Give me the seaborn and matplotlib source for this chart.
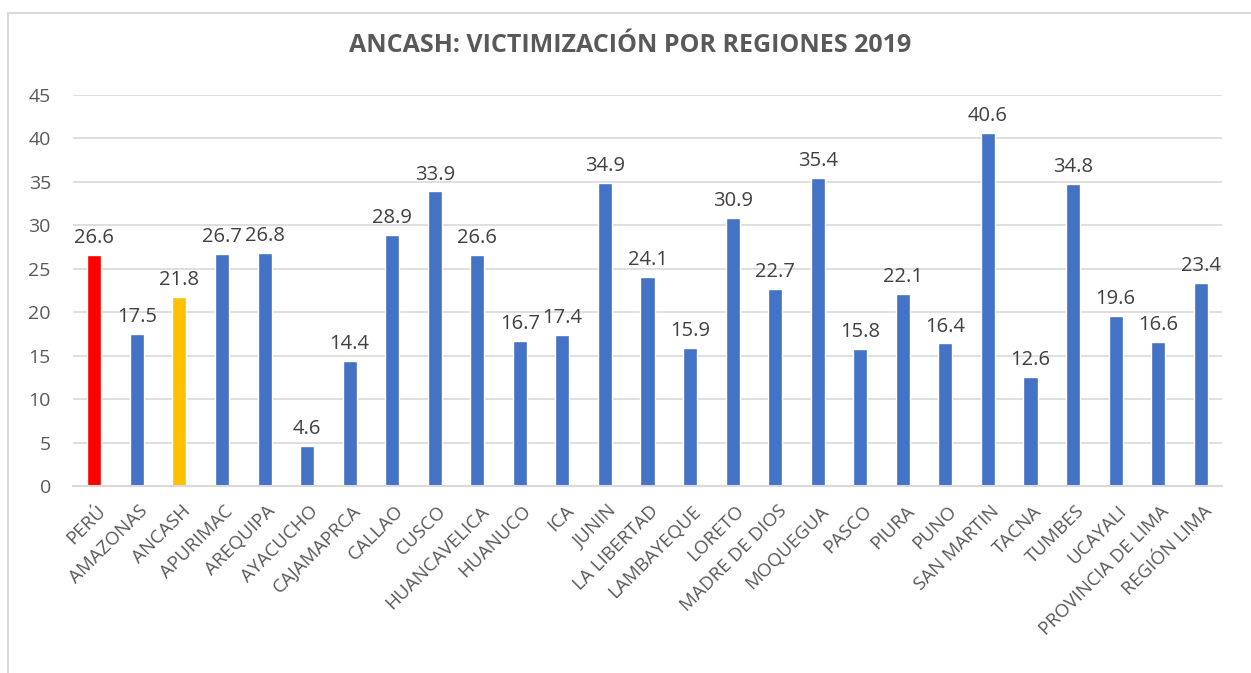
import seaborn as sns
import pandas as pd
import matplotlib.pyplot as plt
from matplotlib.patches import Rectangle
import matplotlib.transforms as mtransforms

# data
regions = ['PERÚ', 'AMAZONAS', 'ANCASH', 'APURIMAC', 'AREQUIPA', 'AYACUCHO',
           'CAJAMAPRCA', 'CALLAO', 'CUSCO', 'HUANCAVELICA', 'HUANUCO', 'ICA',
           'JUNIN', 'LA LIBERTAD', 'LAMBAYEQUE', 'LORETO', 'MADRE DE DIOS',
           'MOQUEGUA', 'PASCO', 'PIURA', 'PUNO', 'SAN MARTIN', 'TACNA',
           'TUMBES', 'UCAYALI', 'PROVINCIA DE LIMA', 'REGIÓN LIMA']
victimizacion = [26.6, 17.5, 21.8, 26.7, 26.8, 4.6, 14.4, 28.9, 33.9, 26.6,
                 16.7, 17.4, 34.9, 24.1, 15.9, 30.9, 22.7, 35.4, 15.8, 22.1,
                 16.4, 40.6, 12.6, 34.8, 19.6, 16.6, 23.4]
title = 'ANCASH: VICTIMIZACIÓN POR REGIONES 2019'

df = pd.DataFrame({'region': regions, 'valor': victimizacion})

# Peru red, Ancash yellow, the rest blue
blue = '#4472C4'
colors = {r: blue for r in regions}
colors['PERÚ'] = '#FF0000'
colors['ANCASH'] = '#FFC000'

sns.set_style('white')
plt.rcParams['font.family'] = ['Open Sans', 'DejaVu Sans']

fig = plt.figure(figsize=(12.51, 6.73), dpi=100)
ax = fig.add_axes([0.0584, 0.2779, 0.9184, 0.5809])

sns.barplot(data=df, x='region', y='valor', hue='region', palette=colors,
            width=0.33, saturation=1, legend=False, ax=ax)

ax.set_ylim(0, 45)
ax.set_yticks(range(0, 46, 5))
ax.set_xlim(-0.5, len(regions) - 0.5)
ax.yaxis.grid(True, color='#D9D9D9', linewidth=1.2)
ax.set_axisbelow(True)
for s in ['top', 'right', 'left']:
    ax.spines[s].set_visible(False)
ax.spines['bottom'].set_color('#D9D9D9')
ax.spines['bottom'].set_linewidth(1.5)
ax.set_xlabel('')
ax.set_ylabel('')
ax.tick_params(axis='y', length=0, labelsize=14, colors='#595959', pad=16)
ax.tick_params(axis='x', length=0, labelsize=13.5, colors='#595959', pad=8)

# rotated category labels
ax.set_xticks(range(len(regions)))
ax.set_xticklabels(regions, rotation=45, ha='right', rotation_mode='anchor')
offset = mtransforms.ScaledTranslation(2 / 100, -5 / 100, fig.dpi_scale_trans)
for lbl in ax.get_xticklabels():
    lbl.set_transform(lbl.get_transform() + offset)

# value labels on top of the bars
for i, v in enumerate(victimizacion):
    ax.annotate(f'{v}', (i, v), xytext=(0, 5), textcoords='offset points',
                ha='center', va='bottom', fontsize=14.5, color='#404040')

fig.text(0.504, 1 - 45 / 673, title, ha='center', va='center',
         fontsize=18, fontweight='bold', color='#595959')

# chart frame
fig.patches.append(Rectangle((8 / 1251, -0.01), 1.05, 1 - 13 / 673 + 0.01,
                             transform=fig.transFigure, fill=False,
                             edgecolor='#D9D9D9', linewidth=1.5))

fig.savefig('out.png', dpi=100)
